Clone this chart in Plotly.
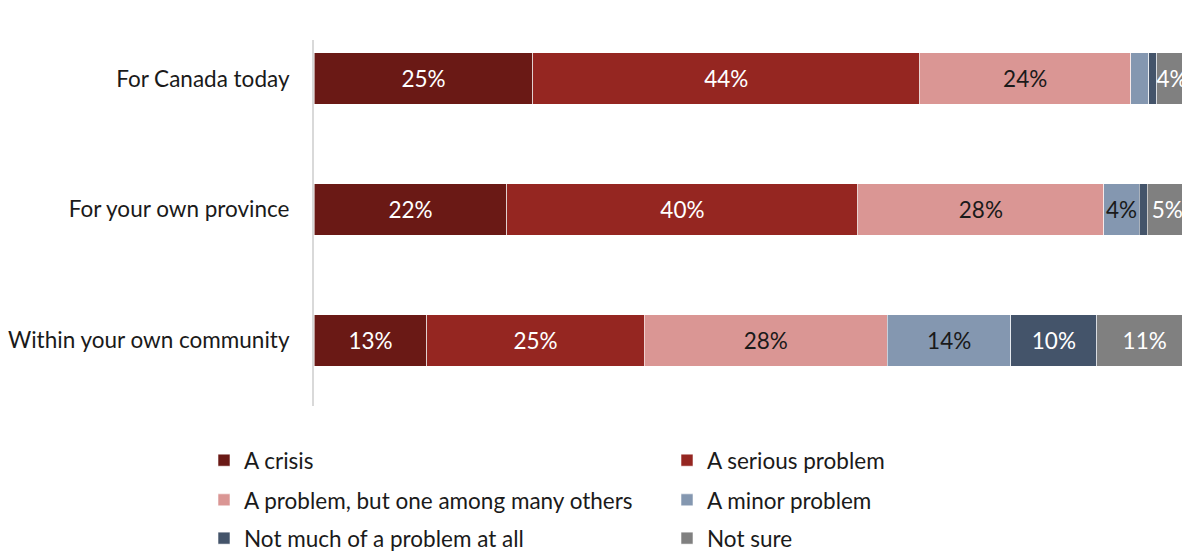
import plotly.graph_objects as go

categories = ["For Canada today", "For your own province", "Within your own community"]
series_names = ["A crisis", "A serious problem", "A problem, but one among many others",
                "A minor problem", "Not much of a problem at all", "Not sure"]
crisis = [25.2, 22.2, 13.0]
serious = [44.5, 40.4, 25.0]
problem_among = [24.3, 28.3, 28.0]
minor = [2.1, 4.1, 14.2]
not_much = [0.9, 0.9, 9.9]
not_sure = [3.5, 4.6, 11.0]
series_values = [crisis, serious, problem_among, minor, not_much, not_sure]
colors = ["#6A1915", "#952621", "#DA9694", "#8497B0", "#44546A", "#808080"]
text_colors = ["white", "white", "#1a1a1a", "#1a1a1a", "white", "white"]

FONT = "Lato"
FS = 22.5
fig = go.Figure()
legend_ids = ["legend", "legend", "legend2", "legend2", "legend3", "legend3"]
for name, vals, col, tcol, lg in zip(series_names, series_values, colors, text_colors, legend_ids):
    labels = [f"{round(v)}%" if v >= 3 else "" for v in vals]
    fig.add_trace(go.Bar(
        y=categories, x=vals, name=name, orientation="h",
        marker=dict(color=col, line=dict(color="rgba(255,255,255,0.55)", width=1)),
        text=labels, textposition="inside", insidetextanchor="middle", textangle=0,
        textfont=dict(color=tcol, size=FS, family=FONT),
        constraintext="none", width=0.394, legend=lg,
        hoverinfo="skip",
    ))

H_PLOT = 369.0
def ypaper(px):
    return (409 - px) / H_PLOT

leg_x = (204 - 314) / 868.0
leg_common = dict(orientation="h", xanchor="left", yanchor="middle",
                  font=dict(size=FS, family=FONT, color="#1a1a1a"),
                  entrywidth=418, bgcolor="rgba(0,0,0,0)", itemclick=False,
                  traceorder="normal")
fig.update_layout(
    barmode="stack",
    width=1182, height=560,
    margin=dict(l=314, r=0, t=40, b=151),
    plot_bgcolor="white", paper_bgcolor="white",
    font=dict(family=FONT, size=FS, color="#1a1a1a"),
    xaxis=dict(range=[0, 99.9], visible=False, fixedrange=True),
    yaxis=dict(range=[2.5, -0.295], type="category", showline=True, linecolor="#d9d9d9",
               linewidth=2, ticks="", showgrid=False, ticklabelstandoff=18,
               tickfont=dict(size=FS, family=FONT, color="#1a1a1a")),
    legend=dict(x=leg_x, y=ypaper(464), **leg_common),
    legend2=dict(x=leg_x, y=ypaper(504), **leg_common),
    legend3=dict(x=leg_x, y=ypaper(543), **leg_common),
    showlegend=True,
)
fig.write_html("out.html")
